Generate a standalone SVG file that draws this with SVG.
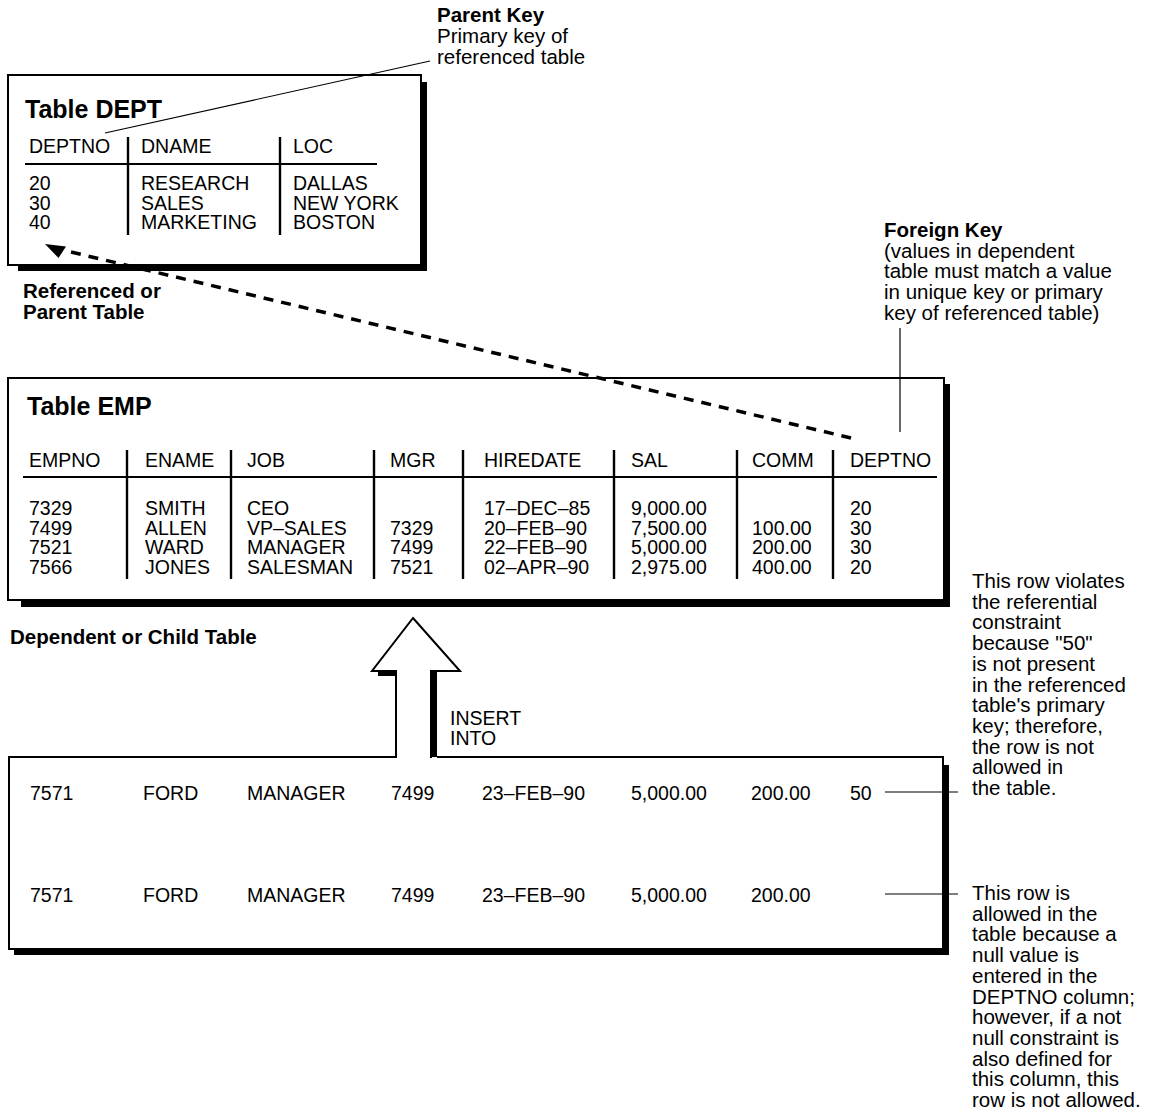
<svg xmlns="http://www.w3.org/2000/svg" width="1153" height="1116" viewBox="0 0 1153 1116">
<style>
  text { font-family: "Liberation Sans", Arial, Helvetica, sans-serif; fill: #000; }
  .t { font-size: 19.5px; }
  .n { font-size: 20.5px; }
  .b { font-size: 20.5px; font-weight: bold; }
  .title { font-size: 25px; font-weight: bold; }
  .box { fill: #fff; stroke: #000; stroke-width: 2; }
  .edge { fill: none; stroke: #000; stroke-width: 2; }
  .shadow { fill: #000; stroke: none; }
  .sep { stroke: #000; stroke-width: 2.4; }
  .hl { stroke: #000; stroke-width: 2; }
  .lead { stroke: #000; stroke-width: 1.2; fill: none; }
  .dash { stroke: #000; stroke-width: 3.5; stroke-dasharray: 10 8; fill: none; }
</style>

<!-- Table DEPT -->
<g id="node-dept">
  <path class="shadow" d="M421,82 H427 V271 H18 V265 H421 Z"/>
  <rect class="box" x="8" y="75" width="413" height="190"/>
  <text class="title" x="25" y="118">Table DEPT</text>
  <text class="t" x="29" y="153">DEPTNO</text>
  <text class="t" x="141" y="153">DNAME</text>
  <text class="t" x="293" y="153">LOC</text>
  <line class="hl" x1="25" y1="164" x2="377" y2="164"/>
  <line class="sep" x1="128" y1="137" x2="128" y2="235"/>
  <line class="sep" x1="280" y1="137" x2="280" y2="235"/>
  <text class="t" x="29" y="190">20<tspan x="29" dy="19.7">30</tspan><tspan x="29" dy="19.7">40</tspan></text>
  <text class="t" x="141" y="190">RESEARCH<tspan x="141" dy="19.7">SALES</tspan><tspan x="141" dy="19.7">MARKETING</tspan></text>
  <text class="t" x="293" y="190">DALLAS<tspan x="293" dy="19.7">NEW YORK</tspan><tspan x="293" dy="19.7">BOSTON</tspan></text>
</g>

<!-- Table EMP -->
<g id="node-emp">
  <path class="shadow" d="M944,384 H950 V607 H21 V600 H944 Z"/>
  <rect class="box" x="8" y="378" width="936" height="222"/>
  <text class="title" x="27" y="415">Table EMP</text>
  <text class="t" x="29" y="467">EMPNO</text>
  <text class="t" x="145" y="467">ENAME</text>
  <text class="t" x="247" y="467">JOB</text>
  <text class="t" x="390" y="467">MGR</text>
  <text class="t" x="484" y="467">HIREDATE</text>
  <text class="t" x="631" y="467">SAL</text>
  <text class="t" x="752" y="467">COMM</text>
  <text class="t" x="850" y="467">DEPTNO</text>
  <line class="hl" x1="23" y1="477" x2="937" y2="477"/>
  <line class="sep" x1="127" y1="450" x2="127" y2="579"/>
  <line class="sep" x1="231" y1="450" x2="231" y2="579"/>
  <line class="sep" x1="374" y1="450" x2="374" y2="579"/>
  <line class="sep" x1="463" y1="450" x2="463" y2="579"/>
  <line class="sep" x1="614" y1="450" x2="614" y2="579"/>
  <line class="sep" x1="737" y1="450" x2="737" y2="579"/>
  <line class="sep" x1="833" y1="450" x2="833" y2="579"/>
  <text class="t" x="29" y="515">7329<tspan x="29" dy="19.7">7499</tspan><tspan x="29" dy="19.7">7521</tspan><tspan x="29" dy="19.7">7566</tspan></text>
  <text class="t" x="145" y="515">SMITH<tspan x="145" dy="19.7">ALLEN</tspan><tspan x="145" dy="19.7">WARD</tspan><tspan x="145" dy="19.7">JONES</tspan></text>
  <text class="t" x="247" y="515">CEO<tspan x="247" dy="19.7">VP–SALES</tspan><tspan x="247" dy="19.7">MANAGER</tspan><tspan x="247" dy="19.7">SALESMAN</tspan></text>
  <text class="t" x="390" y="534.7">7329<tspan x="390" dy="19.7">7499</tspan><tspan x="390" dy="19.7">7521</tspan></text>
  <text class="t" x="484" y="515">17–DEC–85<tspan x="484" dy="19.7">20–FEB–90</tspan><tspan x="484" dy="19.7">22–FEB–90</tspan><tspan x="484" dy="19.7">02–APR–90</tspan></text>
  <text class="t" x="631" y="515">9,000.00<tspan x="631" dy="19.7">7,500.00</tspan><tspan x="631" dy="19.7">5,000.00</tspan><tspan x="631" dy="19.7">2,975.00</tspan></text>
  <text class="t" x="752" y="534.7">100.00<tspan x="752" dy="19.7">200.00</tspan><tspan x="752" dy="19.7">400.00</tspan></text>
  <text class="t" x="850" y="515">20<tspan x="850" dy="19.7">30</tspan><tspan x="850" dy="19.7">30</tspan><tspan x="850" dy="19.7">20</tspan></text>
</g>

<!-- Rows to insert -->
<g id="node-insert-rows">
  <path class="shadow" d="M943,765 H949 V955 H14 V949 H943 Z"/>
  <rect x="9" y="757" width="934" height="192" fill="#fff"/>
  <path class="edge" d="M396,757 H9 V949 H943 V757 H437"/>
  <text class="t" x="30" y="800">7571</text>
  <text class="t" x="143" y="800">FORD</text>
  <text class="t" x="247" y="800">MANAGER</text>
  <text class="t" x="391" y="800">7499</text>
  <text class="t" x="482" y="800">23–FEB–90</text>
  <text class="t" x="631" y="800">5,000.00</text>
  <text class="t" x="751" y="800">200.00</text>
  <text class="t" x="850" y="800">50</text>
  <text class="t" x="30" y="902">7571</text>
  <text class="t" x="143" y="902">FORD</text>
  <text class="t" x="247" y="902">MANAGER</text>
  <text class="t" x="391" y="902">7499</text>
  <text class="t" x="482" y="902">23–FEB–90</text>
  <text class="t" x="631" y="902">5,000.00</text>
  <text class="t" x="751" y="902">200.00</text>
</g>

<!-- INSERT INTO arrow -->
<g id="node-insert-arrow">
  <rect class="shadow" x="378" y="671" width="19" height="5"/>
  <rect class="shadow" x="430" y="671" width="7" height="86"/>
  <polygon points="413,618 460,671 431,671 431,757 396,757 396,671 372,671" fill="#fff" stroke="#000" stroke-width="2" stroke-linejoin="miter"/>
  <rect x="397" y="756" width="33" height="3" fill="#fff"/>
  <text class="t" x="450" y="725">INSERT<tspan x="450" dy="20">INTO</tspan></text>
</g>

<!-- Labels -->
<g id="label-parent-key">
  <text class="b" x="437" y="22">Parent Key</text>
  <text class="n" x="437" y="43">Primary key of</text>
  <text class="n" x="437" y="64">referenced table</text>
</g>
<g id="label-referenced">
  <text class="b" x="23" y="298">Referenced or<tspan x="23" dy="21">Parent Table</tspan></text>
</g>
<g id="label-foreign-key">
  <text class="b" x="884" y="237">Foreign Key</text>
  <text class="n" x="884" y="257.7">(values in dependent<tspan x="884" dy="20.7">table must match a value</tspan><tspan x="884" dy="20.7">in unique key or primary</tspan><tspan x="884" dy="20.7">key of referenced table)</tspan></text>
</g>
<g id="label-dependent">
  <text class="b" x="10" y="644">Dependent or Child Table</text>
</g>
<g id="label-violates">
  <text class="n" x="972" y="588">This row violates<tspan x="972" dy="20.7">the referential</tspan><tspan x="972" dy="20.7">constraint</tspan><tspan x="972" dy="20.7">because "50"</tspan><tspan x="972" dy="20.7">is not present</tspan><tspan x="972" dy="20.7">in the referenced</tspan><tspan x="972" dy="20.7">table's primary</tspan><tspan x="972" dy="20.7">key; therefore,</tspan><tspan x="972" dy="20.7">the row is not</tspan><tspan x="972" dy="20.7">allowed in</tspan><tspan x="972" dy="20.7">the table.</tspan></text>
</g>
<g id="label-allowed">
  <text class="n" x="972" y="900">This row is<tspan x="972" dy="20.7">allowed in the</tspan><tspan x="972" dy="20.7">table because a</tspan><tspan x="972" dy="20.7">null value is</tspan><tspan x="972" dy="20.7">entered in the</tspan><tspan x="972" dy="20.7">DEPTNO column;</tspan><tspan x="972" dy="20.7">however, if a not</tspan><tspan x="972" dy="20.7">null constraint is</tspan><tspan x="972" dy="20.7">also defined for</tspan><tspan x="972" dy="20.7">this column, this</tspan><tspan x="972" dy="20.7">row is not allowed.</tspan></text>
</g>

<!-- Connectors -->
<g id="connectors">
  <line class="dash" x1="71" y1="252" x2="851" y2="438"/>
  <polygon points="45,244 66,246.5 58.5,258" fill="#000"/>
  <line class="lead" x1="105" y1="133" x2="430" y2="61"/>
  <line class="lead" x1="900" y1="328" x2="900" y2="432"/>
  <line class="lead" x1="885" y1="792" x2="958" y2="792"/>
  <line class="lead" x1="885" y1="894" x2="958" y2="894"/>
</g>
</svg>
